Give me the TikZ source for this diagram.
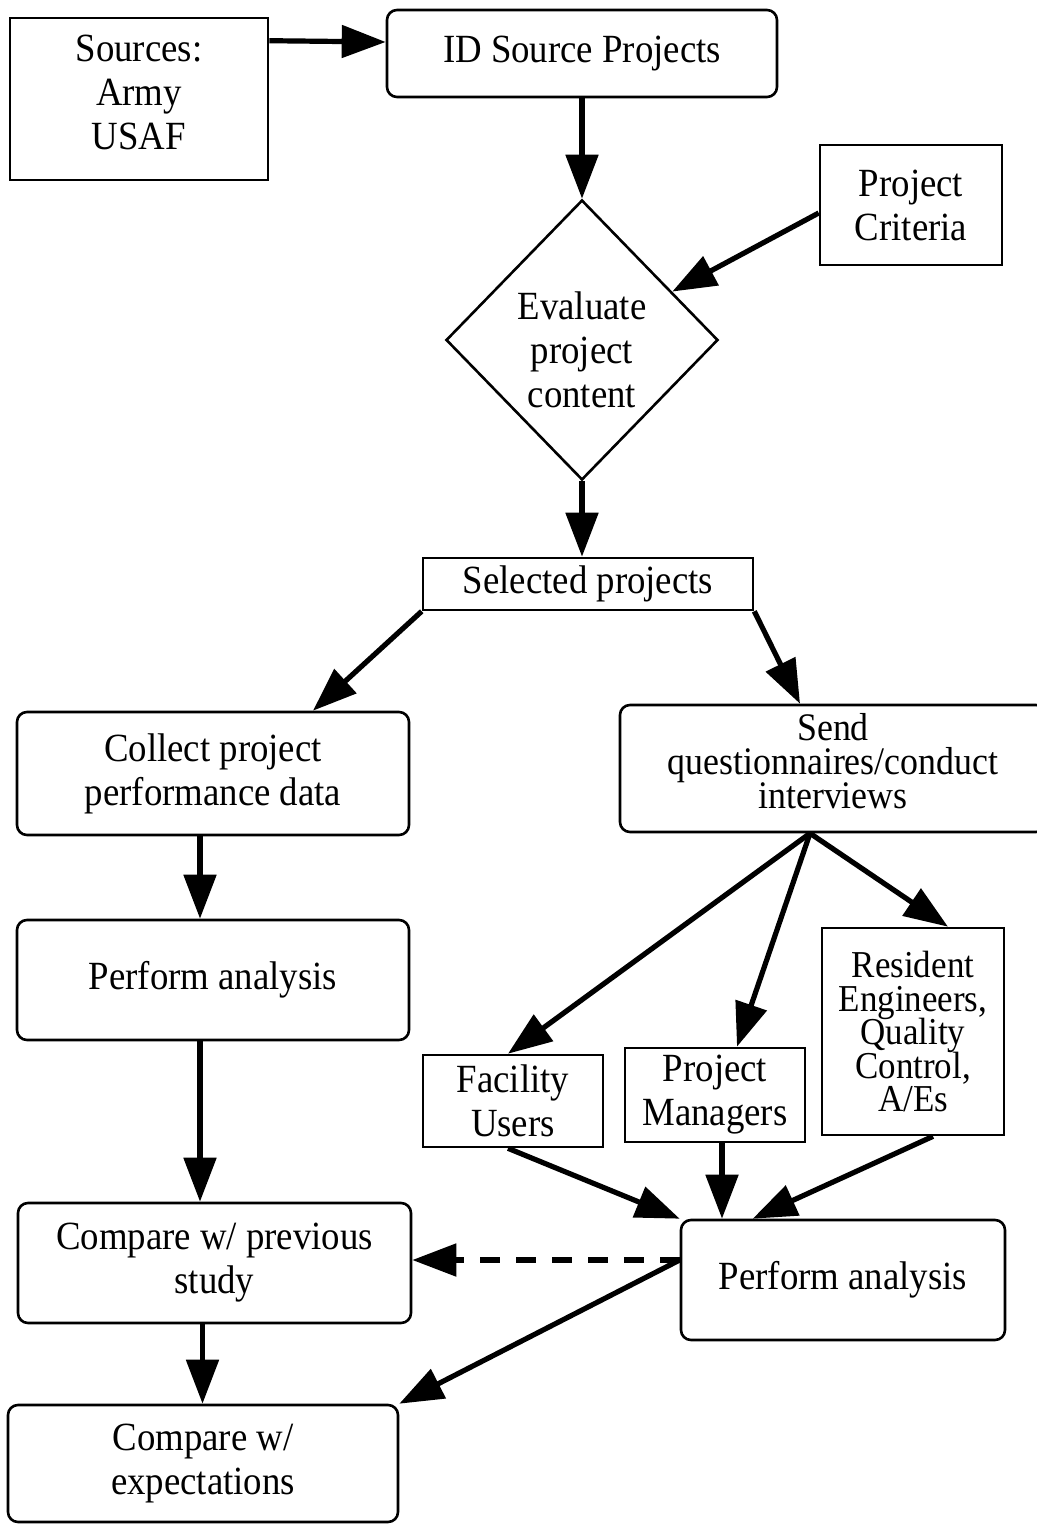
\documentclass[tikz,border=0pt]{standalone}
\usepackage{fontspec}
\setmainfont[FakeStretch=0.92]{Liberation Serif}
\usetikzlibrary{arrows.meta,shapes.geometric,calc}
\newcommand\fsmain{\fontsize{20pt}{22pt}\selectfont}
\newcommand\fssend{\fontsize{19.5pt}{17pt}\selectfont\lineskiplimit=-100pt\relax}
\newcommand\fsres{\fontsize{19pt}{16.75pt}\selectfont\lineskiplimit=-100pt\relax}
\begin{document}
\begin{tikzpicture}[x=0.5pt,y=-0.5pt,
  box/.style={draw, line width=1.3pt, align=center, inner sep=0pt, font=\fsmain},
  rbox/.style={box, rounded corners=5pt},
  arr/.style={line width=2.6pt, -{Triangle[length=22pt,width=16pt]}}]
\path[fill=white,use as bounding box] (0,0) rectangle (1037,1525);

\node[box, minimum width=129pt, minimum height=81pt, text depth=7pt] (src) at (139,99) {Sources:\\Army\\USAF};
\node[rbox, minimum width=195pt, minimum height=43.5pt] (id) at (582,53.5) {ID Source Projects};
\node[box, minimum width=91pt, minimum height=60pt] (crit) at (911,205) {Project\\Criteria};
\node[box, shape=diamond, minimum width=136pt, minimum height=140pt] (dia) at (582,340) {};
\node[align=center, inner sep=0pt, font=\fsmain] (diat) at (582,350) {Evaluate\\project\\content};
\node[box, minimum width=165pt, minimum height=26pt] (sel) at (588,584) {Selected projects};
\node[rbox, minimum width=196pt, minimum height=61.5pt] (col) at (213,773.5) {Collect project\\performance data};
\node[rbox, minimum width=213pt, minimum height=63.5pt, font=\fssend, text depth=8pt] (send) at (833,768.5) {Send\\questionnaires/conduct\\interviews};
\node[rbox, minimum width=196pt, minimum height=60pt] (pa1) at (213,980) {Perform analysis};
\node[box, minimum width=90pt, minimum height=46pt] (fac) at (513,1101) {Facility\\Users};
\node[box, minimum width=90pt, minimum height=47pt] (pm) at (715,1095) {Project\\Managers};
\node[box, minimum width=91pt, minimum height=103.5pt, font=\fsres] (res) at (913,1031.5) {Resident\\Engineers,\\Quality\\Control,\\A/Es};
\node[rbox, minimum width=162pt, minimum height=60pt] (pa2) at (843,1280) {Perform analysis};
\node[rbox, minimum width=196.5pt, minimum height=60pt] (cmp1) at (214.5,1263) {Compare w/ previous\\study};
\node[rbox, minimum width=195pt, minimum height=58.5pt] (cmp2) at (203,1463.5) {Compare w/\\expectations};

\draw[arr] ($(src.north east)+(0,24)$) -- ($(id.west)+(0,-11.5)$);
\draw[arr] (id.south) -- (dia.north);
\draw[arr] ($(crit.west)+(0,8)$) -- (dia);
\draw[arr] (dia.south) -- (dia.south |- sel.north);
\draw[arr] (sel.south west) -- ($(col.north)+(100,0)$);
\draw[arr] (sel.south east) -- ($(send.north)+(-33,0)$);
\draw[arr] ($(col.south)+(-13,0)$) -- ($(pa1.north)+(-13,0)$);
\draw[arr] ($(pa1.south)+(-13,0)$) coordinate (t1) -- (t1 |- cmp1.north);
\draw[arr] ($(cmp1.south)+(-12,0)$) coordinate (t2) -- (t2 |- cmp2.north);
\coordinate (sp) at ($(send.south)+(-23,0)$);
\draw[arr] (sp) -- ($(fac.north)+(-5,0)$);
\draw[arr] (sp) -- ($(pm.north)+(22,0)$);
\draw[arr] (sp) -- ($(res.north)+(35,0)$);
\draw[arr] ($(fac.south)+(-5,0)$) -- (pa2.north west);
\draw[arr] ($(pm.south)+(7,0)$) coordinate (t3) -- (t3 |- pa2.north);
\draw[arr] ($(res.south)+(20,0)$) -- ($(pa2.north west)+(73,0)$);
\coordinate (pp) at ($(pa2.west)+(0,-20)$);
\draw[arr, dash pattern=on 10pt off 8pt] (pp) -- (pp -| cmp1.east);
\draw[arr] (pp) -- (cmp2.north east);
\end{tikzpicture}
\end{document}
